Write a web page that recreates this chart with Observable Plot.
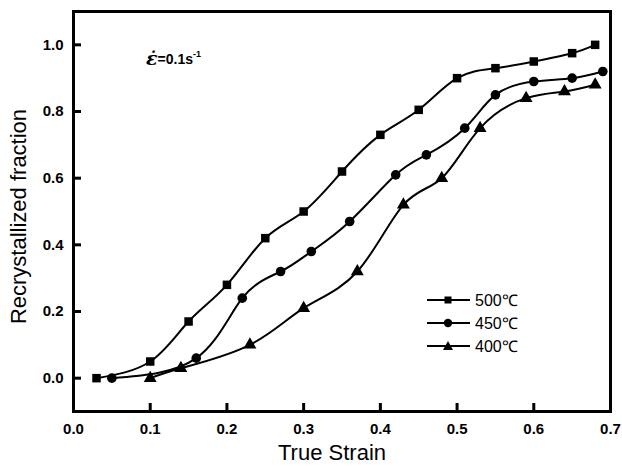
<!DOCTYPE html>
<html>
<head>
<meta charset="utf-8">
<script src="https://cdn.jsdelivr.net/npm/d3@7"></script>
<script src="https://cdn.jsdelivr.net/npm/@observablehq/plot@0.6"></script>
<style>
  html, body { margin: 0; padding: 0; background: #fff; }
  #wrap { position: relative; width: 622px; height: 466px; font-family: "Liberation Sans", Arial, sans-serif; }
  #legend { position: absolute; left: 427px; top: 288px; }
  .row { display: flex; align-items: center; height: 23px; font-size: 16px; color: #000; }
  .row svg { margin-right: 4px; }
  #note { position: absolute; left: 146px; top: 46px; font-weight: bold; font-size: 14px; color: #000; }
  #note .eps { font-size: 19px; font-family: "DejaVu Serif", serif; font-style: italic; position: relative; top: 1px; }
  #note sup { font-size: 9px; vertical-align: 7px; }
</style>
</head>
<body>
<div id="wrap">
  <div id="chart"></div>
  <div id="note"><span class="eps">ε̇</span>=0.1s<sup>-1</sup></div>
  <div id="legend"></div>
</div>
<script>
// Series (true strain, recrystallized fraction)
const strain500 = [0.03, 0.10, 0.15, 0.20, 0.25, 0.30, 0.35, 0.40, 0.45, 0.50, 0.55, 0.60, 0.65, 0.68];
const frac500   = [0.00, 0.05, 0.17, 0.28, 0.42, 0.50, 0.62, 0.73, 0.805, 0.90, 0.93, 0.95, 0.975, 1.00];
const strain450 = [0.05, 0.16, 0.22, 0.27, 0.31, 0.36, 0.42, 0.46, 0.51, 0.55, 0.60, 0.65, 0.69];
const frac450   = [0.00, 0.06, 0.24, 0.32, 0.38, 0.47, 0.61, 0.67, 0.75, 0.85, 0.89, 0.90, 0.92];
const strain400 = [0.10, 0.14, 0.23, 0.30, 0.37, 0.43, 0.48, 0.53, 0.59, 0.64, 0.68];
const frac400   = [0.00, 0.03, 0.10, 0.21, 0.32, 0.52, 0.60, 0.75, 0.84, 0.86, 0.88];

const seriesNames = ["500℃", "450℃", "400℃"];
const symbols = ["square", "circle", "triangle"];
const xTicks = [0, 0.1, 0.2, 0.3, 0.4, 0.5, 0.6, 0.7];
const yTicks = [0, 0.2, 0.4, 0.6, 0.8, 1.0];
const xDomain = [0, 0.7];
const yDomain = [-0.1, 1.1];
const xLabel = "True Strain";
const yLabel = "Recrystallized fraction";

const raw = [[strain500, frac500], [strain450, frac450], [strain400, frac400]];
const data = raw.flatMap(([xs, ys], i) => xs.map((x, j) => ({x, y: ys[j], series: seriesNames[i], symbol: symbols[i]})));

const W = 622, H = 466, mL = 73, mR = 12, mT = 11, mB = 55;
const TICK_PX = 8;
// tick length expressed in data units so the ticks are drawn through the scales
const xTickLen = TICK_PX * (xDomain[1] - xDomain[0]) / (W - mL - mR);
const yTickLen = TICK_PX * (yDomain[1] - yDomain[0]) / (H - mT - mB);

const chart = Plot.plot({
  width: W,
  height: H,
  marginLeft: mL,
  marginRight: mR,
  marginTop: mT,
  marginBottom: mB,
  style: {fontFamily: "Liberation Sans, Arial, sans-serif", background: "#fff", color: "#000", fontSize: "15px"},
  x: {domain: xDomain},
  y: {domain: yDomain},
  symbol: {domain: symbols, range: symbols},
  marks: [
    Plot.frame({stroke: "#000", strokeWidth: 3}),
    Plot.ruleX(xTicks, {x: d => d, y1: () => yDomain[0], y2: () => yDomain[0] + yTickLen, stroke: "#000", strokeWidth: 3}),
    Plot.ruleY(yTicks, {y: d => d, x1: () => xDomain[0], x2: () => xDomain[0] + xTickLen, stroke: "#000", strokeWidth: 3}),
    Plot.axisX({ticks: xTicks, tickFormat: d3.format(".1f"), tickSize: 0, tickPadding: 12, fontSize: 15, fontWeight: "bold", label: null}),
    Plot.axisY({ticks: yTicks, tickFormat: d3.format(".1f"), tickSize: 0, tickPadding: 10, fontSize: 15, fontWeight: "bold", label: null}),
    Plot.line(data, {x: "x", y: "y", z: "series", curve: "natural", stroke: "#000", strokeWidth: 2}),
    Plot.dot(data, {x: "x", y: "y", symbol: "symbol", r: 4.8, fill: "#000", stroke: "none"}),
    Plot.text([xLabel], {frameAnchor: "bottom", dx: -10, dy: 48, fontSize: 22, fill: "#000"}),
    Plot.text([yLabel], {frameAnchor: "left", textAnchor: "middle", dx: -55, dy: 5, rotate: -90, fontSize: 22, fill: "#000"})
  ]
});
document.getElementById("chart").appendChild(chart);

// Legend
const legendBox = document.getElementById("legend");
seriesNames.forEach((name, i) => {
  const row = document.createElement("div");
  row.className = "row";
  let glyph;
  if (symbols[i] === "square") glyph = '<rect x="17.5" y="4.5" width="7" height="7" fill="#000"/>';
  else if (symbols[i] === "circle") glyph = '<circle cx="21" cy="8" r="4.2" fill="#000"/>';
  else glyph = '<path d="M21,3 L26,12 L16,12 Z" fill="#000"/>';
  row.innerHTML = `<svg width="44" height="16"><line x1="0" y1="8" x2="43" y2="8" stroke="#000" stroke-width="2.2"/>${glyph}</svg><span>${name}</span>`;
  legendBox.appendChild(row);
});
</script>
</body>
</html>
